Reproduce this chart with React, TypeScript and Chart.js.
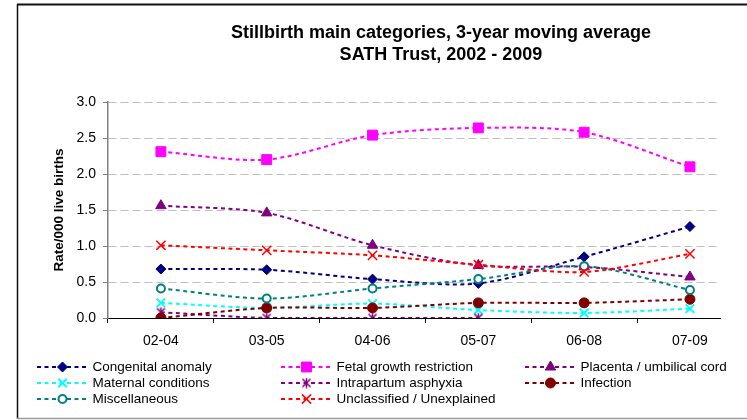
import React, { useEffect, useRef } from "react";
import { Chart, registerables, PointElement } from "chart.js";

Chart.register(...registerables);

// ---------- data ----------
const categories = ["02-04", "03-05", "04-06", "05-07", "06-08", "07-09"];

const congenitalAnomaly = [0.68, 0.67, 0.54, 0.48, 0.85, 1.27];
const fetalGrowthRestriction = [2.31, 2.2, 2.54, 2.64, 2.58, 2.1];
const placentaUmbilicalCord = [1.56, 1.46, 1.01, 0.73, 0.71, 0.57];
const maternalConditions = [0.21, 0.14, 0.2, 0.11, 0.07, 0.13];
const intrapartumAsphyxia = [0.08, 0, 0, 0, null, null];
const infection = [0, 0.14, 0.14, 0.21, 0.21, 0.26];
const miscellaneous = [0.41, 0.27, 0.41, 0.54, 0.72, 0.39];
const unclassifiedUnexplained = [1.01, 0.94, 0.87, 0.74, 0.64, 0.89];

const seriesLabels = [
  "Congenital anomaly",
  "Fetal growth restriction",
  "Placenta / umbilical cord",
  "Maternal conditions",
  "Intrapartum asphyxia",
  "Infection",
  "Miscellaneous",
  "Unclassified / Unexplained",
];

const titleLines = [
  "Stillbirth main categories, 3-year moving average",
  "SATH Trust, 2002 - 2009",
];
const yAxisTitle = "Rate/000 live births";
const yMin = 0;
const yMax = 3;
const yStep = 0.5;

// ---------- styling ----------
const FONT = "'Liberation Sans', Arial, Helvetica, sans-serif";

function makeAsterisk(color: string) {
  const c = document.createElement("canvas");
  c.width = 11;
  c.height = 11;
  const g = c.getContext("2d")!;
  g.strokeStyle = color;
  g.lineWidth = 1.5;
  g.beginPath();
  g.moveTo(1.5, 1.5);
  g.lineTo(9.5, 9.5);
  g.moveTo(9.5, 1.5);
  g.lineTo(1.5, 9.5);
  g.moveTo(5.5, 0.5);
  g.lineTo(5.5, 10.5);
  g.stroke();
  return c;
}

const toPoints = (arr: (number | null)[]) => arr.map((v, i) => ({ x: i, y: v }));

const decorPlugin = {
  id: "decor",
  beforeDraw(chart: any) {
    const ctx = chart.ctx as CanvasRenderingContext2D;
    ctx.save();
    ctx.fillStyle = "#ffffff";
    ctx.fillRect(0, 0, chart.width, chart.height);
    // outer frame
    ctx.strokeStyle = "#111111";
    ctx.lineWidth = 2;
    ctx.beginPath();
    ctx.moveTo(17, 4.5);
    ctx.lineTo(chart.width, 4.5);
    ctx.stroke();
    ctx.lineWidth = 1.5;
    ctx.beginPath();
    ctx.moveTo(17.5, 4);
    ctx.lineTo(17.5, 419);
    ctx.stroke();
    ctx.strokeStyle = "#9a9a9a";
    ctx.lineWidth = 1.5;
    ctx.beginPath();
    ctx.moveTo(17, 418.5);
    ctx.lineTo(chart.width, 418.5);
    ctx.stroke();
    ctx.restore();
  },
  afterDraw(chart: any) {
    const ctx = chart.ctx as CanvasRenderingContext2D;
    ctx.save();
    // title
    ctx.fillStyle = "#000";
    ctx.font = `bold 18px ${FONT}`;
    ctx.textAlign = "center";
    ctx.textBaseline = "alphabetic";
    const titleCenter = 441;
    titleLines.forEach((t, i) => ctx.fillText(t, titleCenter, 37.5 + i * 22.5));

    // legend
    const colX = [37, 281, 525];
    const rowY = [367, 383, 399];
    chart.data.datasets.forEach((ds: any, i: number) => {
      const x0 = colX[i % 3];
      const y0 = rowY[Math.floor(i / 3)];
      ctx.save();
      ctx.strokeStyle = ds.borderColor;
      ctx.lineWidth = 2;
      ctx.setLineDash([4, 3.5]);
      ctx.beginPath();
      ctx.moveTo(x0, y0);
      ctx.lineTo(x0 + 52, y0);
      ctx.stroke();
      ctx.restore();
      const pt: any = new PointElement({ x: x0 + 25.5, y: y0 } as any);
      pt.options = {
        pointStyle: ds.pointStyle,
        radius: ds.pointRadius,
        rotation: 0,
        borderWidth: ds.pointBorderWidth,
        borderColor: ds.pointBorderColor,
        backgroundColor: ds.pointBackgroundColor,
        hitRadius: 0,
        hoverRadius: 0,
      };
      pt.draw(ctx, { left: 0, top: 0, right: 10000, bottom: 10000 });
      ctx.fillStyle = "#000";
      ctx.font = `13.5px ${FONT}`;
      ctx.textAlign = "left";
      ctx.textBaseline = "middle";
      ctx.fillText(ds.label, x0 + 55.5, y0 + 0.5);
    });
    ctx.restore();
  },
};

export default function App() {
  const ref = useRef<HTMLCanvasElement>(null);

  useEffect(() => {
    if (!ref.current) return;
    const asterisk = makeAsterisk("#800080");

    const mk = (
      idx: number,
      values: (number | null)[],
      color: string,
      pointStyle: any,
      radius: number,
      fill: string,
      pbw: number
    ) => ({
      label: seriesLabels[idx],
      order: -idx,
      data: toPoints(values),
      borderColor: color,
      backgroundColor: fill,
      borderWidth: 2,
      borderDash: [4, 3.5],
      tension: 0.3,
      fill: false,
      pointStyle,
      pointRadius: radius,
      pointHoverRadius: radius,
      pointBorderColor: color,
      pointBackgroundColor: fill,
      pointBorderWidth: pbw,
    });

    const datasets = [
      mk(0, congenitalAnomaly, "#000080", "rectRot", 5, "#000080", 1),
      mk(1, fetalGrowthRestriction, "#FF00FF", "rect", 7, "#FF00FF", 1),
      mk(2, placentaUmbilicalCord, "#800080", "triangle", 6, "#800080", 1),
      mk(3, maternalConditions, "#00FFFF", "crossRot", 6, "#00FFFF", 2),
      mk(4, intrapartumAsphyxia, "#800080", asterisk, 5, "#800080", 1),
      mk(5, infection, "#800000", "circle", 5, "#800000", 1),
      mk(6, miscellaneous, "#008080", "circle", 4, "#FFFFFF", 2),
      mk(7, unclassifiedUnexplained, "#FF0000", "crossRot", 6.5, "#FF0000", 1.5),
    ];

    const chart = new Chart(ref.current, {
      type: "line",
      data: { datasets } as any,
      plugins: [decorPlugin],
      options: {
        responsive: false,
        animation: false,
        devicePixelRatio: 1,
        layout: { padding: { left: 0, top: 102, right: 27, bottom: 62 } },
        plugins: {
          legend: { display: false },
          title: { display: false },
          tooltip: { enabled: false },
        },
        scales: {
          x: {
            type: "linear",
            min: -0.5,
            max: 5.284,
            afterFit: (s: any) => {
              s.height = 40;
            },
            afterBuildTicks: (s: any) => {
              s.ticks = categories.map((_, i) => ({ value: i }));
            },
            grid: {
              display: true,
              drawOnChartArea: false,
              drawTicks: true,
              tickLength: 5,
              tickColor: "#000000",
              tickWidth: 1,
              offset: true,
            },
            border: { display: true, color: "#000000", width: 1 },
            ticks: {
              autoSkip: false,
              maxRotation: 0,
              padding: 10,
              color: "#000000",
              font: { family: FONT, size: 14 },
              callback: (v: any) => categories[Math.round(Number(v))] ?? "",
            },
          },
          y: {
            type: "linear",
            min: yMin,
            max: yMax,
            afterFit: (s: any) => {
              s.width = 108;
            },
            grid: {
              color: "#C0C0C0",
              lineWidth: 1,
              drawTicks: true,
              tickLength: 5,
              tickColor: "#808080",
              tickBorderDash: [],
            },
            border: { display: true, color: "#808080", width: 1.5, dash: [8, 4] },
            ticks: {
              stepSize: yStep,
              padding: 7,
              color: "#000000",
              font: { family: FONT, size: 14 },
              callback: (v: any) => Number(v).toFixed(1),
            },
            title: {
              display: true,
              text: yAxisTitle,
              color: "#000000",
              font: { family: FONT, size: 13.5, weight: "bold" },
              padding: { top: 51, bottom: 0 },
            },
          },
        },
      } as any,
    });
    return () => chart.destroy();
  }, []);

  return (
    <div style={{ position: "fixed", left: 0, top: 0, width: 747, height: 420, background: "#fff" }}>
      <canvas ref={ref} width={747} height={420} style={{ display: "block" }} />
    </div>
  );
}
